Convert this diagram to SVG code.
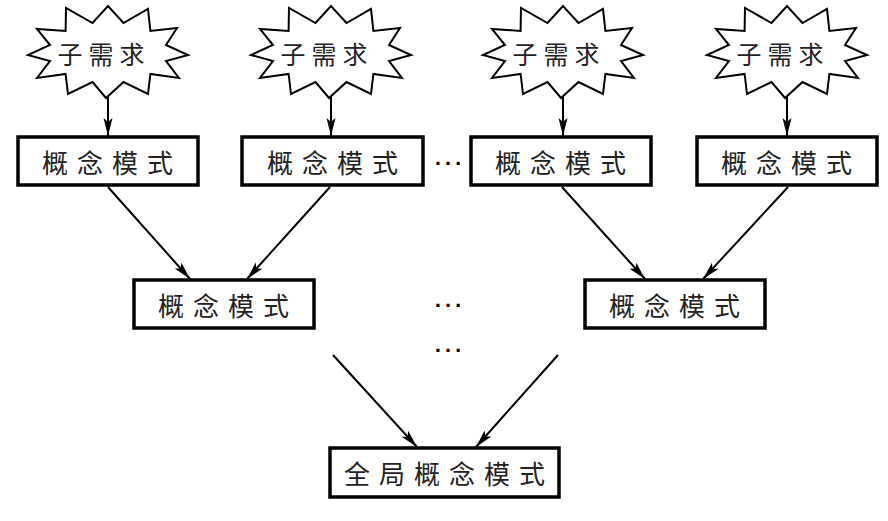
<svg xmlns="http://www.w3.org/2000/svg" xmlns:xlink="http://www.w3.org/1999/xlink" width="888" height="521" viewBox="0 0 888 521">
<style>
.box{fill:#fff;stroke:#000;stroke-width:3.5}
.star{fill:#fff;stroke:#000;stroke-width:2;stroke-linejoin:miter}
.lbl{font-family:"Noto Sans CJK SC","Noto Sans CJK JP",sans-serif;font-size:26px;letter-spacing:9px;fill:#222;text-anchor:middle;dominant-baseline:central}
.slbl{font-family:"Noto Sans CJK SC","Noto Sans CJK JP",sans-serif;font-size:25px;letter-spacing:6px;fill:#222;text-anchor:middle;dominant-baseline:central}
.dots{font-family:"Liberation Sans",sans-serif;font-size:32px;fill:#000;text-anchor:middle}
.conn{stroke:#000;stroke-width:2;fill:none;marker-end:url(#arr)}
</style>
<defs>
<marker id="arr" markerUnits="userSpaceOnUse" markerWidth="20" markerHeight="10" refX="18" refY="4.5" orient="auto">
<path d="M0,0 L18,4.5 L0,9 L4,4.5 z" fill="#000"/>
</marker>
<polygon id="burst" points="80,3 58,9 71,26 42.4,22 40,42 15.5,30 -2,46 -15.5,30 -40,42 -42.4,22 -71,26 -58,9 -80,3 -58,-7 -71,-23 -42.4,-21 -42,-44 -15.5,-29 0,-46 15.5,-29 40,-43 42.4,-21 69,-24 58,-7"/>
</defs>
<rect width="888" height="521" fill="#fff"/>
<g id="connectors">
<line class="conn" x1="108" y1="92" x2="108" y2="136"/>
<line class="conn" x1="331" y1="92" x2="331" y2="136"/>
<line class="conn" x1="563" y1="92" x2="563" y2="136"/>
<line class="conn" x1="787" y1="92" x2="787" y2="136"/>
<line class="conn" x1="108" y1="187" x2="190" y2="279"/>
<line class="conn" x1="330" y1="187" x2="247" y2="279"/>
<line class="conn" x1="562" y1="187" x2="645" y2="279"/>
<line class="conn" x1="788" y1="187" x2="703" y2="279"/>
<line class="conn" x1="333" y1="355" x2="417" y2="447"/>
<line class="conn" x1="558" y1="355" x2="476" y2="447"/>
</g>
<g id="req1"><use xlink:href="#burst" class="star" x="108" y="52"/><text class="slbl" x="104" y="53">子需求</text></g>
<g id="req2"><use xlink:href="#burst" class="star" x="331" y="52"/><text class="slbl" x="327" y="53">子需求</text></g>
<g id="req3"><use xlink:href="#burst" class="star" x="563" y="52"/><text class="slbl" x="559" y="53">子需求</text></g>
<g id="req4"><use xlink:href="#burst" class="star" x="787" y="52"/><text class="slbl" x="783" y="53">子需求</text></g>
<g id="cm1"><rect class="box" x="18" y="137" width="180" height="48"/><text class="lbl" x="112" y="161">概念模式</text></g>
<g id="cm2"><rect class="box" x="242" y="137" width="181" height="48"/><text class="lbl" x="337" y="161">概念模式</text></g>
<g id="cm3"><rect class="box" x="471" y="137" width="180" height="48"/><text class="lbl" x="565" y="161">概念模式</text></g>
<g id="cm4"><rect class="box" x="697" y="137" width="180" height="48"/><text class="lbl" x="791" y="161">概念模式</text></g>
<g id="cm5"><rect class="box" x="134" y="280" width="180" height="48"/><text class="lbl" x="228" y="304">概念模式</text></g>
<g id="cm6"><rect class="box" x="585" y="280" width="180" height="48"/><text class="lbl" x="679" y="304">概念模式</text></g>
<g id="global"><rect class="box" x="330" y="448" width="229" height="49"/><text class="lbl" x="449" y="472.5">全局概念模式</text></g>
<g id="ellipses">
<text class="dots" x="448" y="165">…</text>
<text class="dots" x="448" y="307">…</text>
<text class="dots" x="448" y="352">…</text>
</g>
</svg>
